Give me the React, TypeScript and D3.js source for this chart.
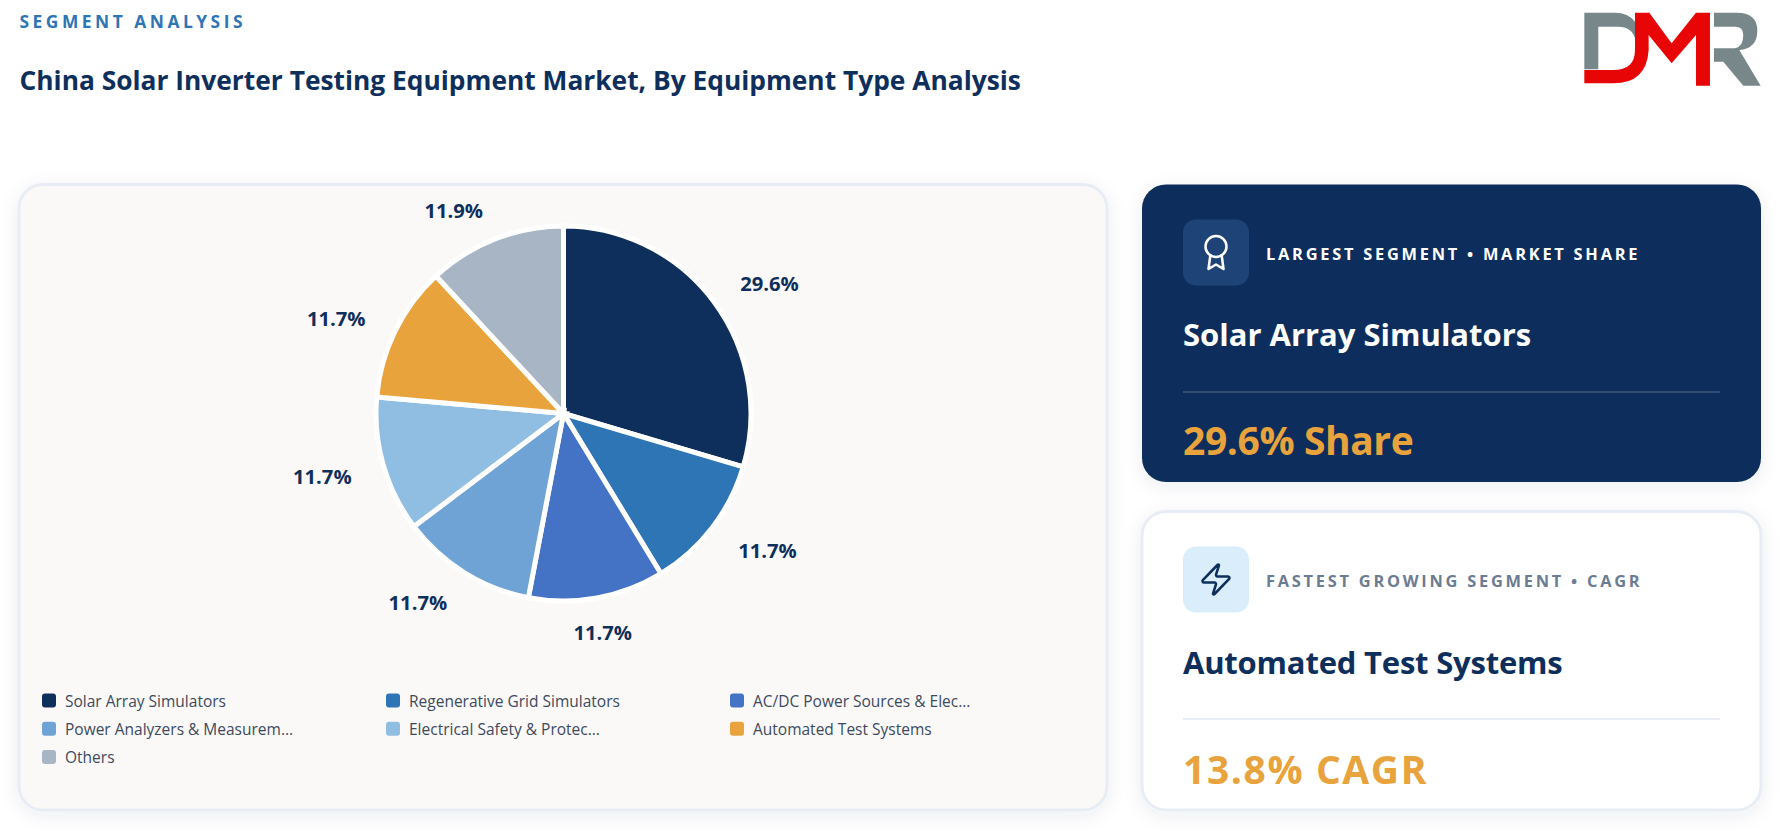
import { useEffect, useRef } from 'react'
import * as d3 from 'd3'

const categories = [
  'Solar Array Simulators',
  'Regenerative Grid Simulators',
  'AC/DC Power Sources & Elec...',
  'Power Analyzers & Measurem...',
  'Electrical Safety & Protec...',
  'Automated Test Systems',
  'Others',
]
const shares = [29.6, 11.7, 11.7, 11.7, 11.7, 11.7, 11.9]
const colors = ['#0e2f5c', '#2e75b6', '#4472c4', '#6fa3d6', '#90bde2', '#e8a33d', '#a7b5c4']

const FONT = '"Open Sans", "Noto Sans", sans-serif'
const NAVY = '#0e2f5c'
const GOLD = '#e8a33d'

export default function App() {
  const svgRef = useRef<SVGSVGElement>(null)

  useEffect(() => {
    if (!svgRef.current) return
    const svg = d3.select(svgRef.current)
    svg.selectAll('*').remove()
    svg.style('font-family', FONT)

    const defs = svg.append('defs')
    defs.append('filter')
      .attr('id', 'shadow')
      .attr('x', '-10%').attr('y', '-10%')
      .attr('width', '120%').attr('height', '120%')
      .append('feDropShadow')
      .attr('dx', 0).attr('dy', 4)
      .attr('stdDeviation', 9)
      .attr('flood-color', '#0e2f5c')
      .attr('flood-opacity', 0.08)

    const text = (x: number, y: number, s: string, size: number, weight: number, fill: string, spacing = 0) =>
      svg.append('text')
        .attr('x', x).attr('y', y)
        .attr('dominant-baseline', 'central')
        .style('font-size', `${size}px`)
        .style('font-weight', weight)
        .style('letter-spacing', `${spacing}px`)
        .attr('fill', fill)
        .text(s)

    // header
    text(19.5, 21, 'SEGMENT ANALYSIS', 17.4, 700, '#2e75b6', 3.5)
    text(19.5, 80, 'China Solar Inverter Testing Equipment Market, By Equipment Type Analysis', 26.35, 700, NAVY)

    // logo at 3x
    const logo = svg.append('g').attr('transform', 'translate(1380,0) scale(0.3333)')
    logo.append('path')
      .attr('d', 'M613 38H705Q745 38 765 65V115Q755 80 715 80H655V208H613Z')
      .attr('fill', '#78888a')
    logo.append('path')
      .attr('d', 'M1002 38H1070Q1132 38 1132 92Q1132 145 1078 150L1142 257H1090L1030 185H1002V145H1065Q1090 140 1090 105Q1090 80 1065 80H1002Z')
      .attr('fill', '#78888a')
    logo.append('path')
      .attr('d', 'M613 210H700Q765 210 765 150V38H808L875 130L948 38H990V257H948V105L875 190L806 105V150Q800 250 700 250H613Z')
      .attr('fill', '#e80505')

    // left panel
    svg.append('rect')
      .attr('x', 19).attr('y', 184.5)
      .attr('width', 1088).attr('height', 625.5)
      .attr('rx', 24)
      .attr('fill', '#fbf9f8')
      .attr('stroke', '#e8edf5').attr('stroke-width', 3)
      .attr('filter', 'url(#shadow)')

    const cx = 563.5
    const cy = 413.5
    const radius = 187.5
    const labelRadius = 220.5

    const pie = d3.pie<number>().sort(null)
    const arcs = pie(shares)
    const arc = d3.arc<d3.PieArcDatum<number>>().innerRadius(0).outerRadius(radius)

    const g = svg.append('g').attr('transform', `translate(${cx},${cy})`)
    g.selectAll('path')
      .data(arcs)
      .enter().append('path')
      .attr('d', arc)
      .attr('fill', (_, i) => colors[i])
      .attr('stroke', '#fff')
      .attr('stroke-width', 5)

    g.selectAll('text')
      .data(arcs)
      .enter().append('text')
      .attr('x', d => labelRadius * Math.sin((d.startAngle + d.endAngle) / 2))
      .attr('y', d => -labelRadius * Math.cos((d.startAngle + d.endAngle) / 2) + 1.5)
      .attr('dominant-baseline', 'central')
      .attr('text-anchor', d => {
        const s = Math.sin((d.startAngle + d.endAngle) / 2)
        if (Math.abs(s) < 0.2) return 'middle'
        return s > 0 ? 'start' : 'end'
      })
      .style('font-size', '20.2px')
      .style('font-weight', 700)
      .attr('fill', NAVY)
      .text(d => `${d.data}%`)

    // legend
    const legendX = d3.scalePoint<number>().domain([0, 1, 2]).range([42, 730])
    const legendY = d3.scalePoint<number>().domain([0, 1, 2]).range([700.5, 757])
    const legend = svg.selectAll('g.legend')
      .data(categories)
      .enter().append('g')
      .attr('class', 'legend')
      .attr('transform', (_, i) => `translate(${legendX(i % 3)},${legendY(Math.floor(i / 3))})`)
    legend.append('rect')
      .attr('y', -7).attr('width', 14).attr('height', 14).attr('rx', 3)
      .attr('fill', (_, i) => colors[i])
    legend.append('text')
      .attr('x', 23)
      .attr('dominant-baseline', 'central')
      .style('font-size', '15.5px')
      .style('font-weight', 500)
      .attr('fill', '#3b4a5e')
      .text(d => d)

    // right cards
    const card = (
      y: number, h: number, fill: string, stroke: string, boxFill: string, iconColor: string, icon: string[],
      label: string, labelColor: string, name: string, nameColor: string, nameY: number, nameSpacing: number,
      value: string, valueY: number, valueSpacing: number, rule: string,
    ) => {
      svg.append('rect')
        .attr('x', 1142).attr('y', y)
        .attr('width', 619).attr('height', h)
        .attr('rx', 24)
        .attr('fill', fill)
        .attr('stroke', stroke).attr('stroke-width', stroke === 'none' ? 0 : 3)
        .attr('filter', 'url(#shadow)')
      svg.append('rect')
        .attr('x', 1183).attr('y', y + 35)
        .attr('width', 66).attr('height', 66).attr('rx', 13)
        .attr('fill', boxFill)
      const ic = svg.append('g')
        .attr('transform', `translate(${1216 - 18},${y + 68 - 18}) scale(1.5)`)
        .attr('fill', 'none')
        .attr('stroke', iconColor)
        .attr('stroke-width', 1.7)
        .attr('stroke-linecap', 'round')
        .attr('stroke-linejoin', 'round')
      icon.forEach(d => ic.append('path').attr('d', d))
      text(1266, y + 69, label, 16.4, 700, labelColor, 2.75)
      text(1183, nameY, name, 31, 700, nameColor, nameSpacing)
      svg.append('rect')
        .attr('x', 1183).attr('y', y + 206.5)
        .attr('width', 537).attr('height', 2)
        .attr('fill', rule)
      text(1183, valueY, value, 39, 700, GOLD, valueSpacing)
    }

    const awardIcon = [
      'M12 1a7 7 0 1 0 0 14a7 7 0 1 0 0-14z',
      'M8.21 13.89L7 23L12 20L17 23L15.79 13.88',
    ]
    const zapIcon = [
      'M4 14a1 1 0 0 1-.78-1.63l9.9-10.2a.5.5 0 0 1 .86.46l-1.92 6.02A1 1 0 0 0 13 10h7a1 1 0 0 1 .78 1.63l-9.9 10.2a.5.5 0 0 1-.86-.46l1.92-6.02A1 1 0 0 0 11 14z',
    ]

    card(184.5, 297.5, NAVY, 'none', '#1e4477', '#fff', awardIcon,
      'LARGEST SEGMENT • MARKET SHARE', '#ffffff', 'Solar Array Simulators', '#ffffff', 334, 0,
      '29.6% Share', 439.5, -0.4, 'rgba(255,255,255,0.16)')
    card(511.5, 298.5, '#ffffff', '#e8edf5', '#d9edfb', NAVY, zapIcon,
      'FASTEST GROWING SEGMENT • CAGR', '#6b7c93', 'Automated Test Systems', NAVY, 662, -0.2,
      '13.8% CAGR', 768.5, 1.6, '#e8edf5')
  }, [])

  return (
    <svg
      ref={svgRef}
      width={1786}
      height={831}
      style={{ position: 'absolute', left: 0, top: 0, background: '#fff' }}
    />
  )
}
